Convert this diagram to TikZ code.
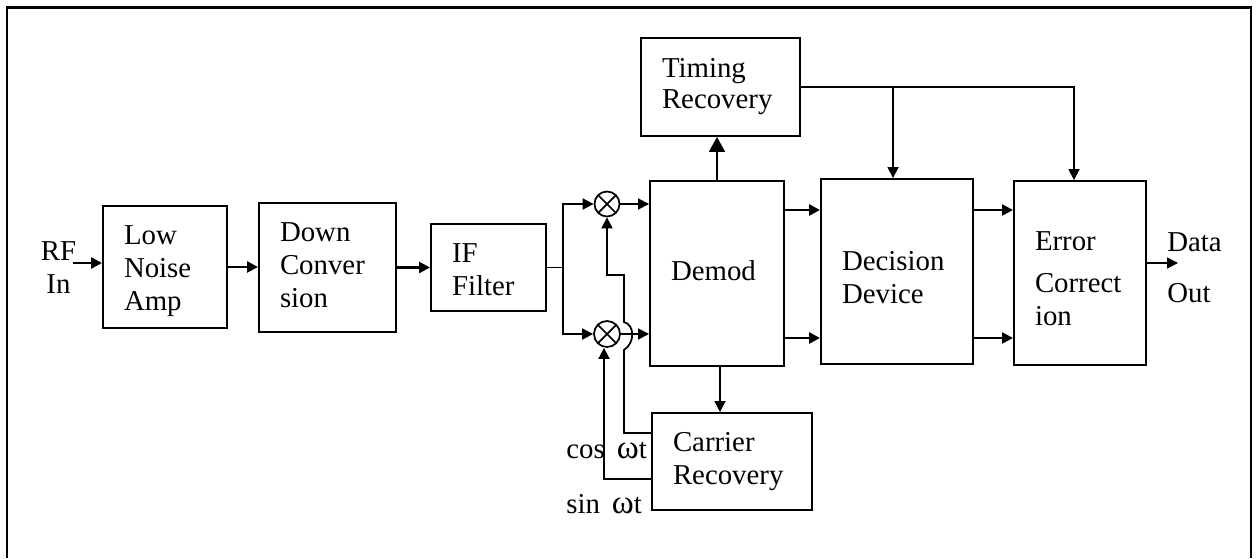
\documentclass[tikz,border=0pt]{standalone}
\usepackage{fontspec}
\setmainfont{Liberation Serif}
\usetikzlibrary{arrows.meta,calc}
\newcommand{\omegat}{{\fontsize{19}{19}\selectfont ω}t}
\tikzset{
  box/.style   ={rectangle, draw=black, line width=1.1pt, align=left, inner xsep=0.42cm, inner ysep=0pt,
                 text height=0.76cm, font=\fontsize{16.4}{19}\selectfont},
  mix/.style   ={circle, draw=black, line width=1pt, inner sep=0pt, minimum size=0.5cm,
                 path picture={\draw[line width=1pt]
                   (path picture bounding box.north west) -- (path picture bounding box.south east)
                   (path picture bounding box.north east) -- (path picture bounding box.south west);}},
  lbl/.style   ={inner sep=0pt, font=\fontsize{16.4}{19}\selectfont},
  frm/.style   ={draw=black, line width=1.4pt},
  ln/.style    ={draw=black, line width=1pt},
  ar/.style    ={ln, -{Triangle[length=2.2mm,width=2.2mm]}},
  arb/.style   ={ar, line width=1.4pt},
  arw/.style   ={ln, line width=1.1pt, -{Triangle[length=3mm,width=3.2mm]}}
}
\begin{document}
\begin{tikzpicture}
\useasboundingbox (0,0) rectangle (25.14,11.16);
\draw[frm] (0.14,0) -- (0.14,4.92);
\draw[frm] (0.14,6.70) -- (0.14,11.01) -- (25.02,11.01) -- (25.02,0);
\draw[ln, line width=0.7pt] (0.14,4.92) -- (0.14,6.70);

\node[lbl, align=center] (rf) at (1.17,5.81) {RF\\In};
\node[box, text width=1.64cm, text depth=1.68cm] (lna) at (3.30,5.82) {Low\\Noise\\Amp};
\node[box, text width=1.90cm, text depth=1.82cm] (down) at (6.55,5.81) {Down\\Conver\\sion};
\node[box, text width=1.46cm, text depth=0.98cm] (ifilt) at (9.77,5.81) {IF\\Filter};
\node[mix] (mixa) at (12.14,7.08) {};
\node[mix, minimum size=0.52cm] (mixb) at (12.14,4.48) {};
\node[box, text width=1.84cm, text height=1.98cm, text depth=1.72cm] (demod) at (14.34,5.69) {Demod};
\node[box, text width=2.34cm, text height=0.78cm, text depth=1.18cm] (timing) at (14.41,9.42) {Timing\\[-1pt]Recovery};
\node[box, text width=2.20cm, text height=1.82cm, text depth=1.88cm] (decision) at (17.94,5.73) {Decision\\Device};
\node[box, text width=1.80cm, text height=1.38cm, text depth=2.30cm] (error) at (21.60,5.70) {Error\\[5pt]Correct\\ion};
\node[box, text width=2.36cm, text depth=1.18cm] (carrier) at (14.64,1.93) {Carrier\\Recovery};
\node[lbl, align=left, font=\fontsize{16.4}{29}\selectfont] (out) at (23.89,5.80) {Data\\Out};
\node[lbl, anchor=base west] (coslbl) at (11.32,2.00) {cos\ \,\omegat};
\node[lbl, anchor=base west] (sinlbl) at (11.32,0.90) {sin\ \,\omegat};

\coordinate (rfa) at (1.46,5.90);
\coordinate (trunk) at (11.26,5.81);
\coordinate (cosa) at (12.48,2.50);
\coordinate (sina) at (12.08,1.58);
\coordinate (tapa) at (17.86,9.42);
\coordinate (tapb) at (21.48,9.42);
\coordinate (outa) at (23.56,5.90);

\draw[arb] (rfa) -- (rfa-|lna.west);
\draw[arb] (lna.east) -- (lna.east-|down.west);
\draw[arb] (down.east) -- (down.east-|ifilt.west);
\draw[ln] (ifilt.east) -- (trunk);
\foreach \m in {mixa,mixb}{\draw[ar] (trunk) |- (\m.west);}
\draw[ar] (mixa.east) -- (mixa.east-|demod.west);
\draw[ar] (mixb.east) -- (mixb.east-|demod.west);
\draw[arw] (demod.north) -- (demod.north|-timing.south);
\draw[ar] ([xshift=0.06cm]demod.south) -- ([xshift=0.06cm]demod.south|-carrier.north);
\foreach \y in {6.96,4.40}{
  \draw[arb] (demod.east|-0,\y) -- (decision.west|-0,\y);
  \draw[arb] (decision.east|-0,\y) -- (error.west|-0,\y);
}
\draw[ar] (timing.east) -- (tapb) -- (tapb|-error.north);
\draw[ar] (tapa) -- (tapa|-decision.north);
\draw[ar] (outa-|error.east) -- (outa);
\draw[ar] (carrier.west|-cosa) -- (cosa) -- (12.48,4.16)
  .. controls (12.70,4.30) and (12.70,4.66) .. (12.48,4.72) -- (12.48,5.66) -| (mixa.south);
\draw[ar] (carrier.west|-sina) -- (sina) -- (sina|-mixb.south);
\end{tikzpicture}
\end{document}
